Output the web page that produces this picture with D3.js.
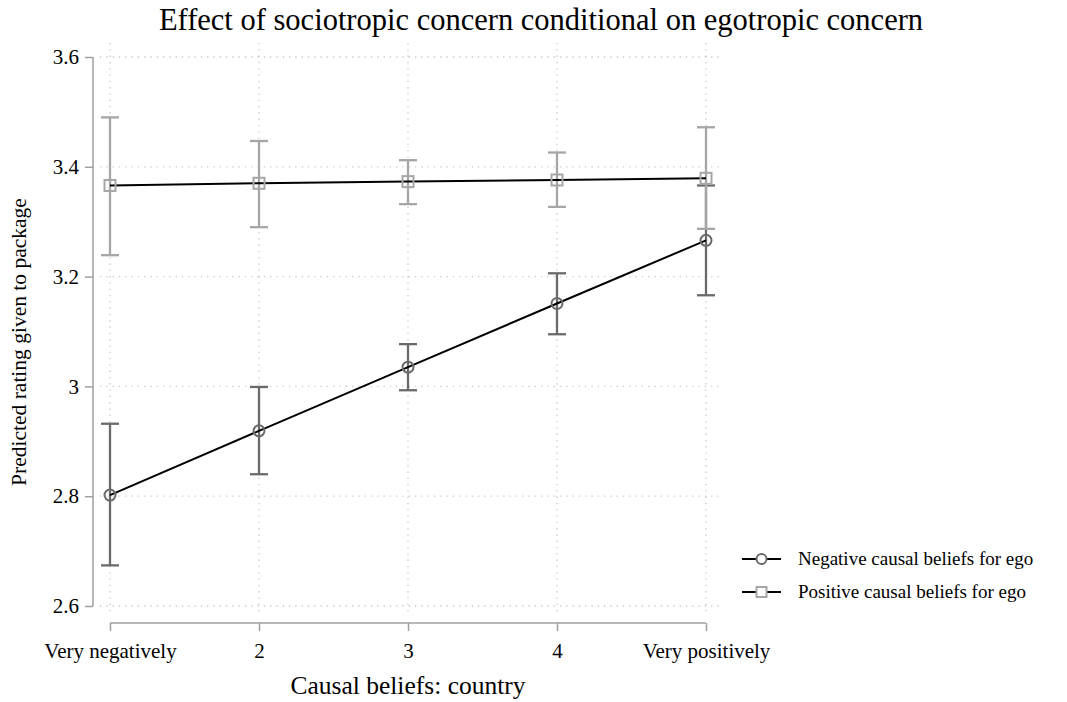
<!DOCTYPE html>
<html><head><meta charset="utf-8">
<script src="https://cdn.jsdelivr.net/npm/d3@7"></script>
<style>body{margin:0;background:#fff}svg{display:block}text{font-family:"Liberation Serif","Times New Roman",serif;fill:#000}</style>
</head><body><svg id="c" width="1067" height="702"></svg>
<script>
const categories = ["Very negatively","2","3","4","Very positively"];
const negMean = [2.802, 2.919, 3.035, 3.151, 3.266];
const negLo   = [2.674, 2.840, 2.993, 3.095, 3.166];
const negHi   = [2.932, 2.999, 3.077, 3.206, 3.366];
const posMean = [3.366, 3.370, 3.373, 3.376, 3.379];
const posLo   = [3.239, 3.290, 3.332, 3.327, 3.287];
const posHi   = [3.490, 3.447, 3.412, 3.426, 3.472];
const yTicks = [2.6, 2.8, 3.0, 3.2, 3.4, 3.6];
const seriesNames = ["Negative causal beliefs for ego","Positive causal beliefs for ego"];

const svg = d3.select("#c");
const x = d3.scalePoint().domain(categories).range([110, 706]);
const y = d3.scaleLinear().domain([2.6, 3.6]).range([606, 57]);

// grid
const grid = svg.append("g").attr("stroke","#c8c8c8").attr("stroke-width",1.3).attr("stroke-dasharray","1.3,5");
grid.selectAll(".h").data(yTicks).join("line").attr("x1",100).attr("x2",720)
  .attr("y1",d=>y(d)).attr("y2",d=>y(d));
grid.selectAll(".v").data(categories).join("line").attr("y1",43).attr("y2",612)
  .attr("x1",d=>x(d)).attr("x2",d=>x(d));

// y axis
const ya = svg.append("g").attr("transform","translate(93,0)")
  .call(d3.axisLeft(y).tickValues(yTicks).tickSize(8).tickPadding(6).tickFormat(d=>d===3?"3":d3.format(".1f")(d)));
ya.select(".domain").attr("stroke","#a0a0a0").attr("stroke-width",1.5).attr("d",`M0,${y(3.6)}V${y(2.6)}`);
ya.selectAll(".tick line").attr("stroke","#a0a0a0").attr("stroke-width",1.5);
ya.selectAll(".tick text").attr("font-size",21);

// x axis
const xa = svg.append("g").attr("transform","translate(0,623)")
  .call(d3.axisBottom(x).tickSize(8).tickPadding(12));
xa.select(".domain").attr("stroke","#a0a0a0").attr("stroke-width",1.5).attr("d",`M${x(categories[0])},0H${x(categories[4])}`);
xa.selectAll(".tick line").attr("stroke","#a0a0a0").attr("stroke-width",1.5);
xa.selectAll(".tick text").attr("font-size",21);

// titles
svg.append("text").attr("x",541).attr("y",30).attr("text-anchor","middle").attr("font-size",30.5).text("Effect of sociotropic concern conditional on egotropic concern");
svg.append("text").attr("x",408).attr("y",694).attr("text-anchor","middle").attr("font-size",25.5).text("Causal beliefs: country");
svg.append("text").attr("transform","translate(26,342) rotate(-90)").attr("text-anchor","middle").attr("font-size",21.5).text("Predicted rating given to package");

function drawSeries(mean, lo, hi, color){
  const g = svg.append("g");
  const cw = 9;
  categories.forEach((c,i)=>{
    g.append("line").attr("x1",x(c)).attr("x2",x(c)).attr("y1",y(lo[i])).attr("y2",y(hi[i])).attr("stroke",color).attr("stroke-width",2.3);
    [lo[i],hi[i]].forEach(v=>g.append("line").attr("x1",x(c)-cw).attr("x2",x(c)+cw).attr("y1",y(v)).attr("y2",y(v)).attr("stroke",color).attr("stroke-width",2.3));
  });
  return g;
}
drawSeries(negMean, negLo, negHi, "#6a6a6a");
drawSeries(posMean, posLo, posHi, "#a6a6a6");

const line = d3.line().x((d,i)=>x(categories[i])).y(d=>y(d));
svg.append("path").datum(negMean).attr("d",line).attr("fill","none").attr("stroke","#000").attr("stroke-width",2);
svg.append("path").datum(posMean).attr("d",line).attr("fill","none").attr("stroke","#000").attr("stroke-width",2);

svg.append("g").selectAll("circle").data(negMean).join("circle")
  .attr("cx",(d,i)=>x(categories[i])).attr("cy",d=>y(d)).attr("r",5.5)
  .attr("fill","none").attr("stroke","#6a6a6a").attr("stroke-width",2);
svg.append("g").selectAll("rect").data(posMean).join("rect")
  .attr("x",(d,i)=>x(categories[i])-5.5).attr("y",d=>y(d)-5.5).attr("width",11).attr("height",11)
  .attr("fill","none").attr("stroke","#a6a6a6").attr("stroke-width",2);

// legend
const lg = svg.append("g");
[0,1].forEach(i=>{
  const ly = 559 + i*33;
  lg.append("line").attr("x1",742).attr("x2",781).attr("y1",ly).attr("y2",ly).attr("stroke","#000").attr("stroke-width",2);
  if(i===0) lg.append("circle").attr("cx",761.5).attr("cy",ly).attr("r",5).attr("fill","#fff").attr("stroke","#6a6a6a").attr("stroke-width",2);
  else lg.append("rect").attr("x",756.5).attr("y",ly-5).attr("width",10).attr("height",10).attr("fill","#fff").attr("stroke","#a6a6a6").attr("stroke-width",2);
  lg.append("text").attr("x",798).attr("y",ly+6).attr("font-size",19).text(seriesNames[i]);
});
</script></body></html>
